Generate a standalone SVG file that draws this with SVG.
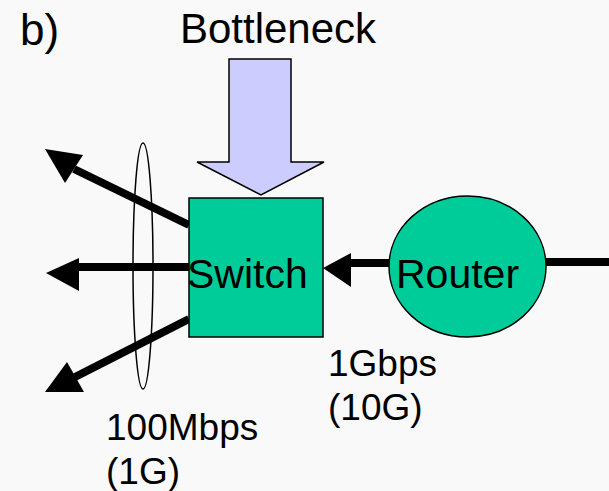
<svg xmlns="http://www.w3.org/2000/svg" width="609" height="491" viewBox="0 0 609 491">
<style>
text{font-family:"Liberation Sans",Arial,sans-serif;fill:#000}
.big{font-size:41px}
.lbl{font-size:37px}
.link{stroke:#000;stroke-width:8;fill:none}
.head{fill:#000;stroke:none}
.node{fill:#00CC99;stroke:#000;stroke-width:1.5}
</style>
<rect x="0" y="0" width="609" height="491" fill="#F9F9F9"/>
<text x="20" y="45" font-size="44">b)</text>
<g id="bottleneck">
<polygon points="229,59 291,59 291,162 324,162 261,195 197,162 229,162" fill="#CCCCFF" stroke="#000" stroke-width="1.5"/>
<text x="278" y="43" font-size="42" text-anchor="middle">Bottleneck</text>
</g>
<g id="connectors">
<line class="link" x1="189" y1="225" x2="74" y2="169"/>
<polygon class="head" points="45,149 83,155 65,183"/>
<line class="link" x1="189" y1="267" x2="76" y2="267"/>
<polygon class="head" points="46,273 79,258 79,291"/>
<line class="link" x1="189" y1="319" x2="75" y2="377"/>
<polygon class="head" points="45,392 67,362 84,392"/>
<line class="link" x1="389" y1="263" x2="348" y2="263"/>
<polygon class="head" points="323,268 351,253 351,287"/>
<line class="link" x1="546" y1="262" x2="609" y2="262"/>
<circle cx="389" cy="263" r="4" fill="#000"/>
<circle cx="546" cy="262" r="4" fill="#000"/>
</g>
<g id="bundle">
<ellipse cx="143" cy="266" rx="10" ry="123" fill="none" stroke="#000" stroke-width="1.5"/>
</g>
<g id="switch">
<rect class="node" x="189" y="198" width="134" height="139"/>
<text class="big" x="187" y="288">Switch</text>
</g>
<g id="router">
<ellipse class="node" cx="467.5" cy="266.5" rx="78.5" ry="70.5"/>
<text class="big" x="396" y="288">Router</text>
</g>
<g id="labels">
<text class="lbl" x="328" y="376">1Gbps</text>
<text class="lbl" x="328" y="420">(10G)</text>
<text class="lbl" x="106" y="440">100Mbps</text>
<text class="lbl" x="106" y="484">(1G)</text>
</g>
</svg>
